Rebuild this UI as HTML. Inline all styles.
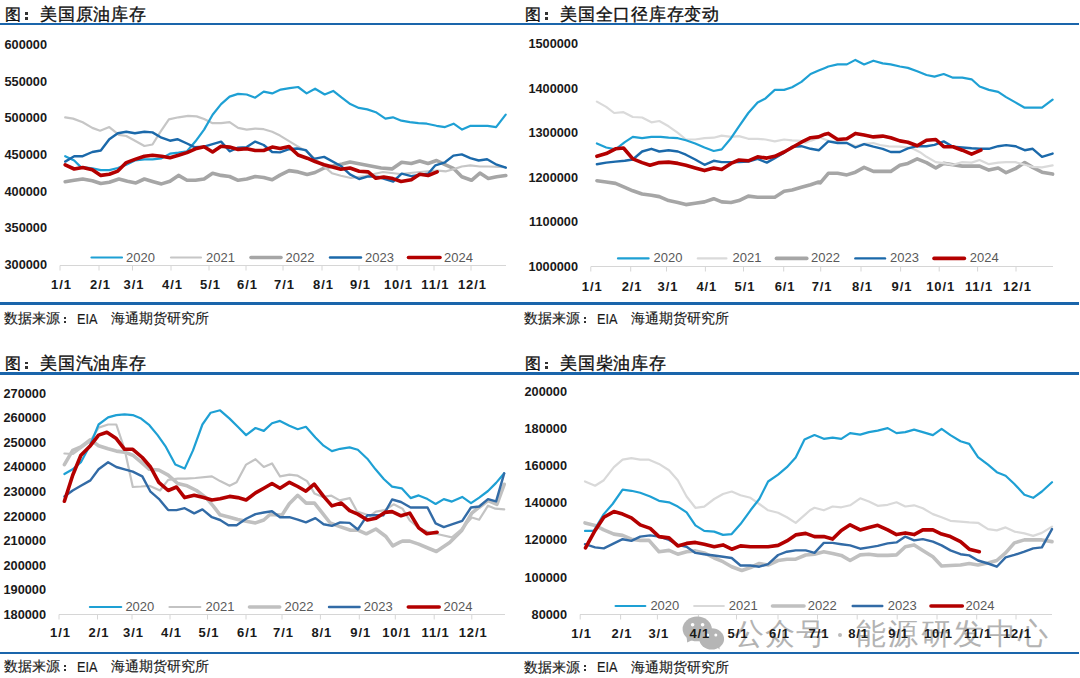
<!DOCTYPE html>
<html><head><meta charset="utf-8"><style>
html,body{margin:0;padding:0;background:#fff;}
body{width:1080px;height:678px;position:relative;overflow:hidden;font-family:"Liberation Sans",sans-serif;}
.t{position:absolute;white-space:nowrap;line-height:1;}
.title{font-size:17.5px;color:#111;-webkit-text-stroke:0.35px #111;}
.t1{font-size:16.4px;}
.t2{font-size:16.9px;letter-spacing:0.75px;}
.foot{font-size:14.4px;color:#1a1a1a;-webkit-text-stroke:0.15px #1a1a1a;}
.eia{font-size:14.6px;transform:scaleX(0.87);transform-origin:0 0;}
.dot{position:absolute;background:#333;}
.hr{position:absolute;left:0;width:1079px;height:2.8px;background:#1a65ab;}
.yl{font-size:13px;font-weight:bold;color:#1a1a1a;text-align:right;width:60px;transform:scaleX(0.98);transform-origin:100% 0;}
.xl{font-size:13px;font-weight:bold;color:#1a1a1a;text-align:center;width:40px;letter-spacing:0.9px;}
.lg{font-size:13px;color:#595959;}
.wm{position:absolute;color:#b3b3b3;font-size:29px;white-space:nowrap;line-height:1;}
</style></head><body>

<svg width="1080" height="678" viewBox="0 0 1080 678" style="position:absolute;left:0;top:0"><line x1="60" y1="265.5" x2="506" y2="265.5" stroke="#d6d6d6" stroke-width="1.1"/><line x1="60" y1="265.5" x2="60" y2="270.5" stroke="#d6d6d6" stroke-width="1"/><line x1="99" y1="265.5" x2="99" y2="270.5" stroke="#d6d6d6" stroke-width="1"/><line x1="132.5" y1="265.5" x2="132.5" y2="270.5" stroke="#d6d6d6" stroke-width="1"/><line x1="171" y1="265.5" x2="171" y2="270.5" stroke="#d6d6d6" stroke-width="1"/><line x1="209" y1="265.5" x2="209" y2="270.5" stroke="#d6d6d6" stroke-width="1"/><line x1="246" y1="265.5" x2="246" y2="270.5" stroke="#d6d6d6" stroke-width="1"/><line x1="283" y1="265.5" x2="283" y2="270.5" stroke="#d6d6d6" stroke-width="1"/><line x1="322" y1="265.5" x2="322" y2="270.5" stroke="#d6d6d6" stroke-width="1"/><line x1="359" y1="265.5" x2="359" y2="270.5" stroke="#d6d6d6" stroke-width="1"/><line x1="397" y1="265.5" x2="397" y2="270.5" stroke="#d6d6d6" stroke-width="1"/><line x1="434" y1="265.5" x2="434" y2="270.5" stroke="#d6d6d6" stroke-width="1"/><line x1="471" y1="265.5" x2="471" y2="270.5" stroke="#d6d6d6" stroke-width="1"/><line x1="91.5" y1="257.5" x2="122" y2="257.5" stroke="#1ea0d4" stroke-width="2.2" stroke-linecap="round"/><line x1="171" y1="257.5" x2="201" y2="257.5" stroke="#c6c6c6" stroke-width="2.2" stroke-linecap="round"/><line x1="251" y1="257.5" x2="281" y2="257.5" stroke="#a6a6a6" stroke-width="3.6" stroke-linecap="round"/><line x1="330" y1="257.5" x2="361" y2="257.5" stroke="#1b69aa" stroke-width="2.4" stroke-linecap="round"/><line x1="408.5" y1="257.5" x2="440" y2="257.5" stroke="#b30000" stroke-width="3.6" stroke-linecap="round"/><polyline fill="none" stroke="#a6a6a6" stroke-width="3.6" stroke-linejoin="round" stroke-linecap="round" points="65.2,181.8 74.2,180.3 82.7,179.0 92.3,180.7 100.8,183.5 109.3,182.2 118.9,179.0 127.4,181.2 135.9,182.9 144.4,179.0 152.5,181.4 161.5,183.9 170.0,181.2 178.5,175.4 187.0,180.3 195.5,180.3 204.1,179.0 212.6,173.3 221.1,175.4 229.6,176.5 238.1,180.3 246.7,179.0 255.2,176.5 263.7,177.5 272.2,179.7 280.0,175.1 289.1,170.6 298.1,171.9 307.2,174.4 315.0,172.5 324.1,168.0 342.2,164.1 350.0,162.1 370.7,166.0 381.1,168.0 392.0,168.9 401.7,162.3 411.3,163.5 419.7,161.1 428.1,163.5 436.6,160.5 445.0,164.7 453.4,168.3 461.8,176.7 471.5,180.3 479.9,173.1 488.3,178.5 496.7,176.7 505.8,175.5"/><polyline fill="none" stroke="#c6c6c6" stroke-width="2.2" stroke-linejoin="round" stroke-linecap="round" points="65.2,117.3 73.1,118.6 82.7,122.2 92.3,127.9 100.1,130.7 109.3,127.1 118.9,134.9 126.3,136.0 135.9,141.3 144.4,146.0 152.5,144.5 160.4,131.8 168.9,119.4 178.5,117.3 188.1,115.8 196.6,116.4 204.1,119.0 212.6,123.2 221.1,123.2 229.6,122.2 238.1,127.9 246.7,129.6 255.2,128.6 263.7,129.2 272.2,131.8 280.0,135.6 296.9,145.9 305.9,151.1 315.0,158.9 324.1,166.7 331.9,173.2 340.9,175.7 351.0,178.0 365.0,176.0 383.0,172.0 400.0,174.0 420.0,172.0 437.0,170.7 437.8,170.7 446.2,171.3 454.6,168.9 461.8,166.5 470.3,165.3 479.9,166.5 488.3,166.5 505.2,167.1"/><polyline fill="none" stroke="#1ea0d4" stroke-width="2.2" stroke-linejoin="round" stroke-linecap="round" points="65.2,156.2 74.2,160.5 80.6,166.9 92.3,168.4 100.8,170.1 109.3,170.1 117.8,168.0 126.3,164.8 134.9,160.5 144.4,159.4 152.5,159.4 161.5,158.4 170.0,153.7 178.5,152.6 187.0,151.3 195.5,141.3 204.1,129.6 212.6,114.7 221.1,104.1 229.6,96.6 238.1,93.9 246.7,94.5 255.2,97.7 263.7,91.7 272.2,93.4 280.7,89.6 289.6,88.1 298.1,87.0 306.6,93.4 315.1,88.7 324.7,94.5 333.2,90.9 341.8,97.7 350.3,104.1 358.8,107.9 367.3,109.4 375.8,112.2 385.4,118.6 392.9,117.3 401.4,120.7 409.9,122.2 418.4,123.2 426.9,123.7 436.5,125.8 445.0,127.1 453.6,123.7 462.1,129.6 470.6,125.8 480.2,125.8 487.6,125.8 496.1,127.1 505.7,114.7"/><polyline fill="none" stroke="#1b69aa" stroke-width="2.4" stroke-linejoin="round" stroke-linecap="round" points="65.2,161.6 74.2,156.2 82.7,156.2 92.3,152.0 100.8,150.5 109.3,139.2 117.8,133.2 126.3,131.8 134.9,133.2 144.4,131.8 152.5,132.4 161.5,137.7 170.0,140.7 177.4,139.2 187.0,143.5 194.5,147.1 204.1,146.7 212.6,144.1 221.1,141.6 229.6,151.3 238.1,147.7 246.7,147.1 255.2,141.6 263.7,145.0 272.2,152.0 280.0,152.4 289.1,149.2 296.9,148.5 305.9,150.1 313.7,158.9 324.1,156.9 340.9,166.0 350.0,174.4 359.1,179.0 368.2,176.4 378.5,177.0 393.2,181.5 401.7,173.7 411.3,176.1 419.7,174.9 428.1,173.7 435.4,165.3 445.0,162.3 453.4,155.6 461.8,154.4 470.3,158.1 478.7,160.5 487.1,159.3 496.7,164.7 505.8,167.7"/><polyline fill="none" stroke="#b30000" stroke-width="3.6" stroke-linejoin="round" stroke-linecap="round" points="65.2,164.8 74.2,169.0 82.7,167.5 92.3,169.7 100.8,175.4 109.3,174.3 117.8,171.1 126.3,162.6 134.9,159.4 144.4,156.2 152.5,155.2 161.5,156.2 170.0,157.7 178.5,155.2 187.0,152.6 195.5,148.8 204.1,146.7 212.6,152.0 221.1,146.2 229.6,147.1 238.1,149.4 246.7,148.8 255.2,150.5 263.7,150.5 272.2,147.1 280.0,148.5 289.1,146.6 298.1,155.0 307.2,158.2 315.0,161.5 324.1,164.7 340.9,169.3 350.0,168.0 359.1,171.2 368.2,171.9 375.9,178.3 383.7,177.0 392.8,178.6 401.1,181.5 411.3,179.7 419.7,174.3 428.1,175.5 437.2,171.9"/><line x1="591" y1="266.5" x2="1053" y2="266.5" stroke="#d6d6d6" stroke-width="1.1"/><line x1="590.8" y1="266.5" x2="590.8" y2="271.5" stroke="#d6d6d6" stroke-width="1"/><line x1="630.7" y1="266.5" x2="630.7" y2="271.5" stroke="#d6d6d6" stroke-width="1"/><line x1="666.5" y1="266.5" x2="666.5" y2="271.5" stroke="#d6d6d6" stroke-width="1"/><line x1="705.4" y1="266.5" x2="705.4" y2="271.5" stroke="#d6d6d6" stroke-width="1"/><line x1="743.5" y1="266.5" x2="743.5" y2="271.5" stroke="#d6d6d6" stroke-width="1"/><line x1="783.7" y1="266.5" x2="783.7" y2="271.5" stroke="#d6d6d6" stroke-width="1"/><line x1="820.7" y1="266.5" x2="820.7" y2="271.5" stroke="#d6d6d6" stroke-width="1"/><line x1="861" y1="266.5" x2="861" y2="271.5" stroke="#d6d6d6" stroke-width="1"/><line x1="900.6" y1="266.5" x2="900.6" y2="271.5" stroke="#d6d6d6" stroke-width="1"/><line x1="939.2" y1="266.5" x2="939.2" y2="271.5" stroke="#d6d6d6" stroke-width="1"/><line x1="977.6" y1="266.5" x2="977.6" y2="271.5" stroke="#d6d6d6" stroke-width="1"/><line x1="1016" y1="266.5" x2="1016" y2="271.5" stroke="#d6d6d6" stroke-width="1"/><line x1="618" y1="258.4" x2="648.6" y2="258.4" stroke="#1ea0d4" stroke-width="2.2" stroke-linecap="round"/><line x1="697.8" y1="258.4" x2="726.4" y2="258.4" stroke="#dadada" stroke-width="2.2" stroke-linecap="round"/><line x1="776.4" y1="258.4" x2="806.8" y2="258.4" stroke="#a6a6a6" stroke-width="3.6" stroke-linecap="round"/><line x1="855.4" y1="258.4" x2="885" y2="258.4" stroke="#1b69aa" stroke-width="2.4" stroke-linecap="round"/><line x1="934" y1="258.4" x2="964.4" y2="258.4" stroke="#b30000" stroke-width="3.6" stroke-linecap="round"/><polyline fill="none" stroke="#a6a6a6" stroke-width="3.6" stroke-linejoin="round" stroke-linecap="round" points="596.9,180.7 606.2,182.0 615.5,183.4 624.8,187.3 632.8,190.8 642.1,194.0 651.4,195.3 659.3,196.6 668.6,200.6 677.9,202.5 685.9,204.6 695.2,203.3 704.5,201.9 713.7,198.7 721.7,201.9 731.0,202.5 739.0,200.6 748.3,196.1 757.6,197.2 766.8,197.2 774.8,197.2 784.1,191.3 792.1,190.0 801.4,187.3 810.6,184.7 818.6,182.0 820.3,182.8 828.3,173.3 837.6,173.3 846.9,174.9 855.4,172.2 864.1,167.4 873.4,171.4 882.7,171.4 890.7,171.4 899.9,165.3 907.9,163.4 917.2,158.9 926.5,162.6 935.8,168.0 943.7,163.4 953.0,164.8 962.3,166.1 971.6,166.1 979.6,166.1 988.9,170.1 998.2,168.0 1006.1,172.7 1015.4,168.7 1024.7,162.6 1032.7,167.4 1042.0,172.2 1052.6,174.1"/><polyline fill="none" stroke="#dadada" stroke-width="2.2" stroke-linejoin="round" stroke-linecap="round" points="596.9,101.6 606.2,106.9 614.2,113.0 623.5,112.2 632.8,117.0 642.1,117.5 651.4,122.3 659.3,121.0 668.6,126.3 677.9,132.9 685.9,139.5 695.2,139.5 704.5,138.2 713.7,137.7 721.7,135.6 731.0,136.9 739.0,136.1 748.3,138.8 757.6,138.8 765.5,139.5 774.8,141.4 784.1,139.5 792.1,140.3 801.4,140.9 805.6,142.8 811.0,140.6 820.0,137.5 828.9,141.0 846.7,142.8 855.6,146.0 864.4,143.9 873.3,143.0 880.0,145.0 888.9,146.4 900.0,146.7 911.1,147.8 920.0,152.2 926.5,156.8 935.8,162.1 945.1,163.4 953.0,164.8 962.3,162.1 971.6,162.6 979.6,160.0 988.9,164.2 998.2,162.6 1006.1,162.1 1015.4,162.1 1024.7,164.8 1032.7,166.9 1042.0,167.4 1052.6,165.3"/><polyline fill="none" stroke="#1ea0d4" stroke-width="2.2" stroke-linejoin="round" stroke-linecap="round" points="596.9,143.5 606.2,147.5 615.5,149.4 624.8,142.2 632.8,136.9 642.1,138.2 651.4,136.9 660.7,136.9 668.6,137.7 677.9,138.2 685.9,140.3 695.2,143.5 704.5,147.5 713.7,151.0 721.7,149.4 731.0,138.2 739.0,126.3 748.3,113.0 757.6,102.4 765.5,98.4 774.8,89.9 784.1,89.9 792.1,87.3 801.4,81.9 810.6,74.0 818.6,70.5 825.0,67.9 828.3,66.5 837.6,64.4 846.9,64.4 855.4,59.9 864.1,64.4 873.4,60.7 882.7,63.4 890.7,64.4 899.9,66.5 907.9,67.9 917.2,71.3 926.5,75.0 934.5,76.6 943.7,74.0 953.0,77.7 962.3,77.7 971.6,79.3 979.6,86.5 988.9,89.9 998.2,91.8 1006.1,97.1 1015.4,102.4 1024.7,107.7 1032.7,107.7 1042.0,107.7 1052.6,99.7"/><polyline fill="none" stroke="#1b69aa" stroke-width="2.4" stroke-linejoin="round" stroke-linecap="round" points="596.9,164.2 606.2,162.6 615.5,161.6 624.8,160.8 632.8,159.5 642.1,151.5 651.4,148.8 659.3,151.5 668.6,150.2 677.9,151.5 685.9,154.7 695.2,159.5 704.5,164.8 713.7,160.8 721.7,162.1 731.0,162.1 739.0,162.1 748.3,161.6 757.6,158.9 766.8,162.6 774.8,158.1 784.1,152.8 792.1,146.7 801.4,146.2 810.6,148.8 819.0,150.2 828.3,141.4 837.6,143.0 846.9,143.0 855.4,147.5 864.1,144.1 873.4,146.7 882.7,148.8 890.7,152.0 899.9,152.0 907.9,148.3 917.2,146.2 926.5,146.2 934.5,144.9 943.7,141.4 953.0,146.7 962.3,147.5 971.6,148.3 979.6,148.8 988.9,148.8 998.2,146.2 1006.1,145.1 1015.4,146.2 1024.7,150.2 1032.7,148.8 1042.0,156.8 1052.6,153.6"/><polyline fill="none" stroke="#b30000" stroke-width="3.6" stroke-linejoin="round" stroke-linecap="round" points="596.9,156.3 606.2,153.6 615.5,148.8 623.5,148.0 632.8,158.9 642.1,162.6 650.0,165.3 659.3,162.6 668.6,162.1 677.9,163.4 685.9,165.3 695.2,168.0 704.5,170.6 713.7,168.0 721.7,169.5 731.0,163.4 739.0,160.0 748.3,160.8 757.6,156.8 766.8,158.1 774.8,156.3 784.1,152.0 792.1,147.5 801.4,142.2 810.6,137.7 818.6,136.9 825.0,134.2 828.3,133.4 837.6,139.5 846.9,138.8 855.4,133.4 864.1,135.0 873.4,136.9 882.7,136.1 890.7,137.7 899.9,140.9 907.9,142.2 917.2,145.7 926.5,140.3 935.8,139.5 943.7,146.7 953.0,146.7 962.3,150.2 971.6,154.1 980.9,150.2"/><line x1="59" y1="614.5" x2="505" y2="614.5" stroke="#d6d6d6" stroke-width="1.1"/><line x1="59" y1="614.5" x2="59" y2="619.5" stroke="#d6d6d6" stroke-width="1"/><line x1="97.5" y1="614.5" x2="97.5" y2="619.5" stroke="#d6d6d6" stroke-width="1"/><line x1="132" y1="614.5" x2="132" y2="619.5" stroke="#d6d6d6" stroke-width="1"/><line x1="170" y1="614.5" x2="170" y2="619.5" stroke="#d6d6d6" stroke-width="1"/><line x1="207.5" y1="614.5" x2="207.5" y2="619.5" stroke="#d6d6d6" stroke-width="1"/><line x1="246" y1="614.5" x2="246" y2="619.5" stroke="#d6d6d6" stroke-width="1"/><line x1="282" y1="614.5" x2="282" y2="619.5" stroke="#d6d6d6" stroke-width="1"/><line x1="320.4" y1="614.5" x2="320.4" y2="619.5" stroke="#d6d6d6" stroke-width="1"/><line x1="359.3" y1="614.5" x2="359.3" y2="619.5" stroke="#d6d6d6" stroke-width="1"/><line x1="395.3" y1="614.5" x2="395.3" y2="619.5" stroke="#d6d6d6" stroke-width="1"/><line x1="434.2" y1="614.5" x2="434.2" y2="619.5" stroke="#d6d6d6" stroke-width="1"/><line x1="471.8" y1="614.5" x2="471.8" y2="619.5" stroke="#d6d6d6" stroke-width="1"/><line x1="89.9" y1="607" x2="121.2" y2="607" stroke="#1ea0d4" stroke-width="2.2" stroke-linecap="round"/><line x1="169.5" y1="607" x2="200.3" y2="607" stroke="#c3c3c3" stroke-width="2.2" stroke-linecap="round"/><line x1="249.5" y1="607" x2="279.7" y2="607" stroke="#c0c0c0" stroke-width="3.6" stroke-linecap="round"/><line x1="329" y1="607" x2="359.6" y2="607" stroke="#326ba6" stroke-width="2.4" stroke-linecap="round"/><line x1="408.3" y1="607" x2="439.2" y2="607" stroke="#b30000" stroke-width="3.6" stroke-linecap="round"/><polyline fill="none" stroke="#c0c0c0" stroke-width="3.6" stroke-linejoin="round" stroke-linecap="round" points="64.4,464.6 72.7,450.4 80.9,446.9 90.4,439.8 98.6,445.7 108.1,448.8 116.3,451.1 124.6,452.1 132.8,455.2 141.1,462.2 149.4,469.3 158.8,470.0 168.2,475.2 177.7,483.5 187.1,485.8 196.5,490.5 206.0,497.6 213.1,505.9 220.1,514.8 229.6,517.2 237.8,519.6 246.1,521.2 255.5,522.9 263.8,520.0 270.0,514.5 282.0,515.1 289.3,503.7 297.7,495.3 306.1,503.1 314.5,503.1 323.0,513.9 330.2,523.0 339.8,526.6 350.6,530.2 357.9,530.2 366.3,533.8 375.9,529.0 385.6,536.2 392.8,545.8 400.0,542.2 402.5,541.1 409.8,541.1 418.7,544.1 429.0,548.5 436.4,551.5 449.7,542.6 461.5,530.8 471.8,513.1 479.2,507.2 488.0,500.6 496.9,504.3 504.2,484.3"/><polyline fill="none" stroke="#c3c3c3" stroke-width="2.2" stroke-linejoin="round" stroke-linecap="round" points="64.4,453.5 72.7,454.0 80.9,448.1 90.4,441.0 98.6,427.6 108.1,424.5 116.3,424.5 124.6,449.3 132.8,487.0 141.1,486.5 149.4,485.8 160.0,490.5 168.2,479.9 177.7,478.7 185.9,478.7 195.4,478.0 211.9,476.4 220.1,481.1 229.6,485.8 236.6,482.3 246.1,464.6 255.5,459.2 263.8,467.0 272.0,463.4 280.0,476.4 289.4,474.7 297.7,475.7 307.1,481.1 314.4,493.4 322.9,496.9 331.4,495.7 339.7,500.4 349.8,498.1 357.1,511.5 370.1,515.8 375.9,511.6 384.8,510.2 393.6,504.3 402.5,508.7 409.8,520.5 418.7,527.9 429.0,532.3 439.3,534.5 451.9,537.4 461.5,529.3 471.8,517.5 479.2,519.7 488.0,505.7 495.4,508.7 504.2,509.4"/><polyline fill="none" stroke="#1ea0d4" stroke-width="2.2" stroke-linejoin="round" stroke-linecap="round" points="64.4,474.0 72.7,469.3 80.9,462.2 90.4,444.5 98.6,424.5 108.1,417.4 116.3,415.1 124.6,414.3 132.8,415.1 141.1,418.6 149.4,425.2 157.6,435.1 165.9,446.9 175.3,464.6 184.7,468.6 193.0,450.4 202.4,424.5 210.7,412.7 220.1,410.3 229.6,418.6 237.8,426.8 246.1,435.1 255.5,428.0 263.8,430.9 272.0,423.3 280.0,420.9 289.4,425.7 297.7,429.2 305.9,426.8 315.4,437.5 323.6,445.7 331.9,451.1 340.2,448.8 349.6,447.4 357.8,449.7 367.3,458.7 375.5,469.3 384.0,479.2 392.1,486.6 401.7,488.3 410.6,498.1 418.7,495.4 427.5,499.1 435.6,504.0 443.8,499.1 451.9,501.6 462.2,496.9 471.0,503.1 479.2,497.6 488.0,491.0 496.1,482.9 504.2,473.3"/><polyline fill="none" stroke="#326ba6" stroke-width="2.4" stroke-linejoin="round" stroke-linecap="round" points="64.4,496.4 72.7,490.5 80.9,485.8 90.4,480.4 98.6,469.3 108.1,462.2 116.3,467.0 124.6,469.3 132.8,471.7 142.3,476.4 150.5,491.7 158.8,498.8 168.2,510.1 176.5,510.1 184.7,508.2 194.2,513.4 202.4,509.4 211.9,517.2 220.1,520.0 228.4,525.2 236.6,525.2 246.1,518.8 255.5,514.1 263.8,512.5 272.0,511.3 280.0,517.2 289.4,517.2 297.7,519.6 305.9,522.4 315.4,518.1 323.6,524.3 331.9,525.9 340.2,522.4 349.6,522.9 357.8,529.5 367.3,515.3 383.3,515.3 392.1,499.5 401.0,502.0 410.6,507.5 427.5,507.5 435.6,523.4 443.8,527.1 452.6,524.2 462.2,520.8 471.0,507.5 479.2,506.5 488.0,499.1 496.1,501.3 504.2,473.3"/><polyline fill="none" stroke="#b30000" stroke-width="3.6" stroke-linejoin="round" stroke-linecap="round" points="64.4,501.2 72.7,475.2 80.9,455.2 90.4,445.7 98.6,435.1 106.9,432.3 116.3,438.6 124.6,449.3 132.8,449.3 142.3,457.5 150.5,467.0 158.8,482.3 168.2,490.5 176.5,487.0 184.7,497.6 194.2,495.3 203.6,497.6 211.9,500.0 220.1,498.8 229.6,496.4 237.8,497.6 246.1,500.0 255.5,492.9 263.8,488.2 272.0,483.5 280.0,488.2 289.4,482.3 297.7,486.5 305.9,491.2 314.2,484.2 323.6,496.4 331.9,505.9 341.3,503.0 349.6,510.6 357.8,514.1 367.3,520.0 375.9,518.3 384.8,512.4 392.1,511.6 401.0,515.8 409.8,513.1 418.7,527.9 426.8,533.8 437.1,532.3"/><line x1="580" y1="614.5" x2="1052" y2="614.5" stroke="#d6d6d6" stroke-width="1.1"/><line x1="580.2" y1="614.5" x2="580.2" y2="619.5" stroke="#d6d6d6" stroke-width="1"/><line x1="620.6" y1="614.5" x2="620.6" y2="619.5" stroke="#d6d6d6" stroke-width="1"/><line x1="657.4" y1="614.5" x2="657.4" y2="619.5" stroke="#d6d6d6" stroke-width="1"/><line x1="698.4" y1="614.5" x2="698.4" y2="619.5" stroke="#d6d6d6" stroke-width="1"/><line x1="736.5" y1="614.5" x2="736.5" y2="619.5" stroke="#d6d6d6" stroke-width="1"/><line x1="778" y1="614.5" x2="778" y2="619.5" stroke="#d6d6d6" stroke-width="1"/><line x1="817.5" y1="614.5" x2="817.5" y2="619.5" stroke="#d6d6d6" stroke-width="1"/><line x1="857.2" y1="614.5" x2="857.2" y2="619.5" stroke="#d6d6d6" stroke-width="1"/><line x1="897.2" y1="614.5" x2="897.2" y2="619.5" stroke="#d6d6d6" stroke-width="1"/><line x1="937" y1="614.5" x2="937" y2="619.5" stroke="#d6d6d6" stroke-width="1"/><line x1="976.7" y1="614.5" x2="976.7" y2="619.5" stroke="#d6d6d6" stroke-width="1"/><line x1="1016" y1="614.5" x2="1016" y2="619.5" stroke="#d6d6d6" stroke-width="1"/><line x1="615.6" y1="606" x2="645.3" y2="606" stroke="#1ea0d4" stroke-width="2.2" stroke-linecap="round"/><line x1="694.2" y1="606" x2="723.8" y2="606" stroke="#d9d9d9" stroke-width="2.2" stroke-linecap="round"/><line x1="772.5" y1="606" x2="804" y2="606" stroke="#c0c0c0" stroke-width="3.6" stroke-linecap="round"/><line x1="852.7" y1="606" x2="882.3" y2="606" stroke="#326ba6" stroke-width="2.4" stroke-linecap="round"/><line x1="931" y1="606" x2="962.3" y2="606" stroke="#b30000" stroke-width="3.6" stroke-linecap="round"/><polyline fill="none" stroke="#c0c0c0" stroke-width="3.6" stroke-linejoin="round" stroke-linecap="round" points="585.0,522.9 595.1,525.4 603.8,529.9 613.9,534.1 622.6,535.4 631.4,539.2 640.2,540.4 649.0,540.4 659.0,551.7 669.0,550.4 677.8,554.2 686.6,551.7 695.4,550.9 704.2,552.9 714.2,558.0 723.0,561.7 731.7,566.7 741.8,570.5 750.5,567.5 759.3,563.5 768.1,565.0 778.1,560.5 786.9,559.2 795.7,559.2 805.7,555.0 814.5,554.2 823.8,551.7 832.6,553.4 841.3,555.4 850.1,560.5 860.2,554.9 868.9,554.2 877.7,555.4 887.7,555.4 896.5,554.9 905.3,546.7 914.1,544.9 922.8,550.4 932.9,556.7 941.6,566.0 950.4,565.5 960.5,565.0 969.2,563.5 978.0,565.0 988.0,563.0 996.8,560.5 1005.6,552.9 1014.4,542.9 1024.4,539.9 1033.2,539.9 1041.9,539.9 1052.0,541.6"/><polyline fill="none" stroke="#d9d9d9" stroke-width="2.2" stroke-linejoin="round" stroke-linecap="round" points="585.0,481.5 595.1,485.7 603.8,480.2 613.9,467.2 622.6,459.7 631.4,458.2 640.2,459.7 649.0,459.7 659.0,463.9 669.0,470.2 677.8,480.2 686.6,496.5 695.4,507.8 704.2,506.6 714.2,499.0 723.0,494.0 731.7,491.5 740.5,495.3 750.5,497.8 759.3,504.0 768.1,510.3 778.1,512.8 786.9,517.3 795.7,522.9 805.7,514.1 810.0,510.3 814.5,507.8 823.8,510.3 832.6,506.5 841.3,507.3 850.1,505.3 860.2,498.3 868.9,501.5 877.7,505.8 887.7,504.8 896.5,502.3 905.3,506.5 914.1,505.3 922.8,508.3 932.9,514.1 941.6,517.3 950.4,520.8 960.5,521.6 969.2,522.3 978.0,522.8 988.0,529.1 996.8,530.4 1005.6,527.4 1014.4,531.6 1024.4,533.4 1033.2,535.9 1041.9,532.9 1052.0,526.6"/><polyline fill="none" stroke="#1ea0d4" stroke-width="2.2" stroke-linejoin="round" stroke-linecap="round" points="585.0,530.9 593.8,530.9 603.8,514.1 612.6,504.0 622.6,489.7 631.4,490.8 640.2,492.8 650.2,496.5 659.0,500.8 669.0,502.3 677.8,506.6 686.6,512.3 695.4,525.4 704.2,530.9 714.2,531.6 723.0,534.9 731.7,534.1 740.5,524.1 750.5,510.3 759.3,499.0 768.1,481.5 778.1,474.7 786.9,467.2 795.7,457.6 804.5,439.6 810.0,437.1 814.5,435.1 823.8,438.8 832.6,437.6 841.3,438.8 850.1,433.1 860.2,434.6 868.9,432.1 877.7,430.6 887.7,428.1 896.5,433.1 905.3,432.1 914.1,429.6 922.8,432.1 932.9,435.1 941.6,428.8 950.4,435.1 960.5,441.3 969.2,443.9 978.0,457.1 988.0,464.7 996.8,472.2 1005.6,475.7 1014.4,484.0 1024.4,494.8 1033.2,497.8 1041.9,491.5 1052.0,482.2"/><polyline fill="none" stroke="#326ba6" stroke-width="2.4" stroke-linejoin="round" stroke-linecap="round" points="585.0,544.2 595.1,547.4 603.8,548.4 613.9,543.4 622.6,539.2 631.4,540.9 640.2,536.6 650.2,535.4 659.0,536.6 669.0,539.9 677.8,544.9 686.6,546.7 695.4,552.9 704.2,554.2 714.2,555.5 723.0,556.7 731.7,558.0 740.5,565.5 750.5,565.5 759.3,566.7 768.1,564.2 778.1,555.0 786.9,551.7 795.7,550.4 805.7,550.4 814.5,552.9 823.8,542.9 832.6,542.9 841.3,544.2 850.1,545.4 860.2,548.7 868.9,547.4 877.7,545.9 887.7,543.4 896.5,542.4 905.3,536.6 914.1,540.4 922.8,539.1 932.9,541.6 941.6,545.4 950.4,550.4 960.5,554.2 969.2,555.4 978.0,560.5 988.0,563.5 996.8,566.7 1005.6,557.4 1014.4,554.9 1024.4,551.7 1033.2,548.4 1041.9,547.4 1052.0,529.1"/><polyline fill="none" stroke="#b30000" stroke-width="3.6" stroke-linejoin="round" stroke-linecap="round" points="585.5,547.9 595.1,530.4 603.8,517.3 613.9,511.6 622.6,514.1 631.4,517.8 640.2,524.9 650.2,528.4 659.0,536.6 669.0,537.9 677.8,545.9 686.6,543.4 695.4,542.4 704.2,544.2 714.2,546.7 723.0,544.9 731.7,549.2 740.5,545.9 750.5,546.7 759.3,546.7 768.1,546.7 778.1,545.4 786.9,540.9 795.7,534.9 805.7,533.4 814.5,536.6 823.8,536.6 832.6,539.1 841.3,530.4 850.1,524.8 860.2,529.9 868.9,527.4 877.7,525.3 887.7,529.9 896.5,534.6 905.3,532.9 914.1,534.6 922.8,529.9 932.9,529.9 941.6,534.1 950.4,536.6 960.5,541.6 969.2,549.2 979.3,551.7"/></svg>
<svg width="1080" height="678" viewBox="0 0 1080 678" style="position:absolute;left:0;top:0">
<g fill="#b5b5b5">
<ellipse cx="697.2" cy="628.9" rx="14.6" ry="12.4"/>
<path d="M686.5,636 L687.2,642.5 L693.5,639.5 Z"/>
<ellipse cx="711.7" cy="638.9" rx="12.4" ry="10.6"/>
<path d="M716,646 L719.5,649.5 L719.5,644 Z"/>
</g>
<g fill="#fff">
<circle cx="692.6" cy="624.8" r="1.8"/><circle cx="702.6" cy="624.8" r="1.8"/>
<circle cx="707.6" cy="635" r="1.5"/><circle cx="715.8" cy="635" r="1.5"/>
</g>
</svg>
<div class="wm" style="left:733.5px;top:618.5px;font-size:30px;letter-spacing:1.2px">公众号</div>
<div style="position:absolute;left:837.5px;top:633.2px;width:4.2px;height:4.2px;border-radius:50%;background:#bbb"></div>
<div class="wm" style="left:856px;top:618.5px;font-size:30px;letter-spacing:2.4px">能源研发中心</div>
<div class="t title t1" style="left:5.2px;top:6px">图</div>
<div class="dot" style="left:24.8px;top:12.4px;width:2.9px;height:2.5px"></div>
<div class="dot" style="left:24.8px;top:17.2px;width:2.9px;height:2.5px"></div>
<div class="t title t2" style="left:40px;top:7px">美国原油库存</div>
<div class="t title t1" style="left:525.2px;top:6px">图</div>
<div class="dot" style="left:544.8px;top:12.4px;width:2.9px;height:2.5px"></div>
<div class="dot" style="left:544.8px;top:17.2px;width:2.9px;height:2.5px"></div>
<div class="t title t2" style="left:560px;top:7px">美国全口径库存变动</div>
<div class="t title t1" style="left:5.2px;top:355.2px">图</div>
<div class="dot" style="left:24.8px;top:361.59999999999997px;width:2.9px;height:2.5px"></div>
<div class="dot" style="left:24.8px;top:366.4px;width:2.9px;height:2.5px"></div>
<div class="t title t2" style="left:40px;top:356.2px">美国汽油库存</div>
<div class="t title t1" style="left:525.2px;top:355.2px">图</div>
<div class="dot" style="left:544.8px;top:361.59999999999997px;width:2.9px;height:2.5px"></div>
<div class="dot" style="left:544.8px;top:366.4px;width:2.9px;height:2.5px"></div>
<div class="t title t2" style="left:560px;top:356.2px">美国柴油库存</div>
<div class="hr" style="top:22.7px"></div>
<div class="hr" style="top:302.1px"></div>
<div class="hr" style="top:371.9px"></div>
<div class="hr" style="top:651.6px"></div>
<div class="t foot" style="left:4.2px;top:311px">数据来源</div>
<div class="dot" style="left:64.2px;top:316.6px;width:2.3px;height:2.1px"></div>
<div class="dot" style="left:64.2px;top:320.7px;width:2.3px;height:2.1px"></div>
<div class="t foot eia" style="left:76.5px;top:311.6px">EIA</div>
<div class="t foot" style="left:111px;top:311px">海通期货研究所</div>
<div class="t foot" style="left:524.2px;top:311px">数据来源</div>
<div class="dot" style="left:584.2px;top:316.6px;width:2.3px;height:2.1px"></div>
<div class="dot" style="left:584.2px;top:320.7px;width:2.3px;height:2.1px"></div>
<div class="t foot eia" style="left:596.5px;top:311.6px">EIA</div>
<div class="t foot" style="left:631px;top:311px">海通期货研究所</div>
<div class="t foot" style="left:4.2px;top:659px">数据来源</div>
<div class="dot" style="left:64.2px;top:664.6px;width:2.3px;height:2.1px"></div>
<div class="dot" style="left:64.2px;top:668.7px;width:2.3px;height:2.1px"></div>
<div class="t foot eia" style="left:76.5px;top:659.6px">EIA</div>
<div class="t foot" style="left:111px;top:659px">海通期货研究所</div>
<div class="t foot" style="left:524.2px;top:659.5px">数据来源</div>
<div class="dot" style="left:584.2px;top:665.1px;width:2.3px;height:2.1px"></div>
<div class="dot" style="left:584.2px;top:669.2px;width:2.3px;height:2.1px"></div>
<div class="t foot eia" style="left:596.5px;top:660.1px">EIA</div>
<div class="t foot" style="left:631px;top:659.5px">海通期货研究所</div>
<div class="t yl" style="left:-13.5px;top:37.7px">600000</div>
<div class="t yl" style="left:-13.5px;top:74.5px">550000</div>
<div class="t yl" style="left:-13.5px;top:111.2px">500000</div>
<div class="t yl" style="left:-13.5px;top:147.9px">450000</div>
<div class="t yl" style="left:-13.5px;top:184.7px">400000</div>
<div class="t yl" style="left:-13.5px;top:221.4px">350000</div>
<div class="t yl" style="left:-13.5px;top:258.2px">300000</div>
<div class="t xl" style="left:41.4px;top:277.8px">1/1</div>
<div class="t xl" style="left:80.4px;top:277.8px">2/1</div>
<div class="t xl" style="left:113.9px;top:277.8px">3/1</div>
<div class="t xl" style="left:152.4px;top:277.8px">4/1</div>
<div class="t xl" style="left:190.4px;top:277.8px">5/1</div>
<div class="t xl" style="left:227.4px;top:277.8px">6/1</div>
<div class="t xl" style="left:264.4px;top:277.8px">7/1</div>
<div class="t xl" style="left:303.4px;top:277.8px">8/1</div>
<div class="t xl" style="left:340.4px;top:277.8px">9/1</div>
<div class="t xl" style="left:378.4px;top:277.8px">10/1</div>
<div class="t xl" style="left:415.4px;top:277.8px">11/1</div>
<div class="t xl" style="left:452.4px;top:277.8px">12/1</div>
<div class="t lg" style="left:126.0px;top:250.5px">2020</div>
<div class="t lg" style="left:206.0px;top:250.5px">2021</div>
<div class="t lg" style="left:285.5px;top:250.5px">2022</div>
<div class="t lg" style="left:365.0px;top:250.5px">2023</div>
<div class="t lg" style="left:444.0px;top:250.5px">2024</div>
<div class="t yl" style="left:518.0px;top:37.3px">1500000</div>
<div class="t yl" style="left:518.0px;top:81.8px">1400000</div>
<div class="t yl" style="left:518.0px;top:126.3px">1300000</div>
<div class="t yl" style="left:518.0px;top:170.7px">1200000</div>
<div class="t yl" style="left:518.0px;top:215.2px">1100000</div>
<div class="t yl" style="left:518.0px;top:259.7px">1000000</div>
<div class="t xl" style="left:572.2px;top:279.6px">1/1</div>
<div class="t xl" style="left:612.1px;top:279.6px">2/1</div>
<div class="t xl" style="left:647.9px;top:279.6px">3/1</div>
<div class="t xl" style="left:686.8px;top:279.6px">4/1</div>
<div class="t xl" style="left:724.9px;top:279.6px">5/1</div>
<div class="t xl" style="left:765.1px;top:279.6px">6/1</div>
<div class="t xl" style="left:802.1px;top:279.6px">7/1</div>
<div class="t xl" style="left:842.4px;top:279.6px">8/1</div>
<div class="t xl" style="left:882.0px;top:279.6px">9/1</div>
<div class="t xl" style="left:920.6px;top:279.6px">10/1</div>
<div class="t xl" style="left:959.0px;top:279.6px">11/1</div>
<div class="t xl" style="left:997.4px;top:279.6px">12/1</div>
<div class="t lg" style="left:653.5px;top:251.4px">2020</div>
<div class="t lg" style="left:732.6px;top:251.4px">2021</div>
<div class="t lg" style="left:811.0px;top:251.4px">2022</div>
<div class="t lg" style="left:890.0px;top:251.4px">2023</div>
<div class="t lg" style="left:969.8px;top:251.4px">2024</div>
<div class="t yl" style="left:-14.5px;top:386.7px">270000</div>
<div class="t yl" style="left:-14.5px;top:411.3px">260000</div>
<div class="t yl" style="left:-14.5px;top:435.8px">250000</div>
<div class="t yl" style="left:-14.5px;top:460.4px">240000</div>
<div class="t yl" style="left:-14.5px;top:484.9px">230000</div>
<div class="t yl" style="left:-14.5px;top:509.5px">220000</div>
<div class="t yl" style="left:-14.5px;top:534.1px">210000</div>
<div class="t yl" style="left:-14.5px;top:558.6px">200000</div>
<div class="t yl" style="left:-14.5px;top:583.2px">190000</div>
<div class="t yl" style="left:-14.5px;top:607.7px">180000</div>
<div class="t xl" style="left:40.4px;top:626.2px">1/1</div>
<div class="t xl" style="left:78.9px;top:626.2px">2/1</div>
<div class="t xl" style="left:113.4px;top:626.2px">3/1</div>
<div class="t xl" style="left:151.4px;top:626.2px">4/1</div>
<div class="t xl" style="left:188.9px;top:626.2px">5/1</div>
<div class="t xl" style="left:227.4px;top:626.2px">6/1</div>
<div class="t xl" style="left:263.4px;top:626.2px">7/1</div>
<div class="t xl" style="left:301.8px;top:626.2px">8/1</div>
<div class="t xl" style="left:340.7px;top:626.2px">9/1</div>
<div class="t xl" style="left:376.7px;top:626.2px">10/1</div>
<div class="t xl" style="left:415.6px;top:626.2px">11/1</div>
<div class="t xl" style="left:453.2px;top:626.2px">12/1</div>
<div class="t lg" style="left:125.4px;top:600.0px">2020</div>
<div class="t lg" style="left:205.5px;top:600.0px">2021</div>
<div class="t lg" style="left:284.6px;top:600.0px">2022</div>
<div class="t lg" style="left:363.7px;top:600.0px">2023</div>
<div class="t lg" style="left:443.6px;top:600.0px">2024</div>
<div class="t yl" style="left:507.0px;top:384.7px">200000</div>
<div class="t yl" style="left:507.0px;top:421.9px">180000</div>
<div class="t yl" style="left:507.0px;top:459.1px">160000</div>
<div class="t yl" style="left:507.0px;top:496.2px">140000</div>
<div class="t yl" style="left:507.0px;top:533.4px">120000</div>
<div class="t yl" style="left:507.0px;top:570.6px">100000</div>
<div class="t yl" style="left:507.0px;top:607.8px">80000</div>
<div class="t xl" style="left:561.6px;top:627.3px">1/1</div>
<div class="t xl" style="left:602.0px;top:627.3px">2/1</div>
<div class="t xl" style="left:638.8px;top:627.3px">3/1</div>
<div class="t xl" style="left:679.8px;top:627.3px">4/1</div>
<div class="t xl" style="left:717.9px;top:627.3px">5/1</div>
<div class="t xl" style="left:759.4px;top:627.3px">6/1</div>
<div class="t xl" style="left:798.9px;top:627.3px">7/1</div>
<div class="t xl" style="left:838.6px;top:627.3px">8/1</div>
<div class="t xl" style="left:878.6px;top:627.3px">9/1</div>
<div class="t xl" style="left:918.4px;top:627.3px">10/1</div>
<div class="t xl" style="left:958.1px;top:627.3px">11/1</div>
<div class="t xl" style="left:997.4px;top:627.3px">12/1</div>
<div class="t lg" style="left:650.4px;top:599.0px">2020</div>
<div class="t lg" style="left:728.7px;top:599.0px">2021</div>
<div class="t lg" style="left:807.8px;top:599.0px">2022</div>
<div class="t lg" style="left:887.8px;top:599.0px">2023</div>
<div class="t lg" style="left:965.6px;top:599.0px">2024</div>
</body></html>
